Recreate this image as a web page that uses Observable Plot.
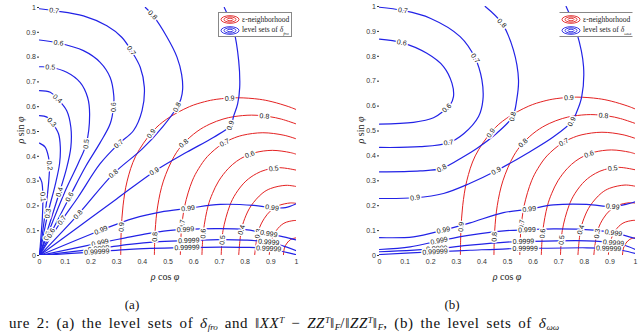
<!DOCTYPE html>
<html>
<head>
<meta charset="utf-8">
<script src="https://cdn.jsdelivr.net/npm/d3@7"></script>
<script src="https://cdn.jsdelivr.net/npm/@observablehq/plot@0.6"></script>
<style>
  html, body { margin: 0; padding: 0; background: #fff; }
  #wrap { position: relative; width: 640px; height: 334px; overflow: hidden; background: #fff; }
  .abs { position: absolute; white-space: nowrap; }
  .ttl { font-family: "Liberation Serif", "DejaVu Serif", serif; font-size: 10px; color: #222; transform: translate(-50%, -50%); }
  .legend { position: absolute; width: 72px; height: 23px; border: 1px solid #888; background: #fff; font-family: "Liberation Serif", serif; font-size: 7.5px; color: #222; }
  .legend .row { position: absolute; left: 1px; height: 11px; display: flex; align-items: center; }
  .legend svg { margin-right: 2px; }
  .cap { font-family: "Liberation Serif", "DejaVu Serif", serif; color: #111; }
  .line2 { line-height: 15px; font-size: 15px; letter-spacing: 0.6px; word-spacing: 2.5px; }
  .line2 sub, .line2 sup { font-size: 9px; line-height: 0; letter-spacing: 0; }
  .line2 sub { vertical-align: -2px; }
  .line2 sup { vertical-align: 5px; }
</style>
</head>
<body>
<div id="wrap">
  <div id="pa" class="abs" style="left:0;top:0"></div>
  <div id="pb" class="abs" style="left:320px;top:0"></div>

  <div class="abs ttl" style="left:165px;top:276px"><i>ρ</i> cos <i>φ</i></div>
  <div class="abs ttl" style="left:507px;top:276px"><i>ρ</i> cos <i>φ</i></div>
  <div class="abs ttl" style="left:20px;top:130px;transform:translate(-50%,-50%) rotate(-90deg)"><i>ρ</i> sin <i>φ</i></div>
  <div class="abs ttl" style="left:360px;top:130px;transform:translate(-50%,-50%) rotate(-90deg)"><i>ρ</i> sin <i>φ</i></div>

  <div class="legend" style="left:218px;top:12px">
    <div class="row" style="top:1px"><svg width="20" height="9"><g fill="none" stroke="#e02020" stroke-width="0.9"><ellipse cx="10" cy="4.5" rx="9" ry="3.8"/><ellipse cx="10" cy="4.5" rx="6" ry="2.6"/><ellipse cx="10" cy="4.5" rx="3" ry="1.3"/></g></svg><span>ε-neighborhood</span></div>
    <div class="row" style="top:12px"><svg width="20" height="9"><g fill="none" stroke="#2020e0" stroke-width="0.9"><ellipse cx="10" cy="4.5" rx="9" ry="3.8"/><ellipse cx="10" cy="4.5" rx="6" ry="2.6"/><ellipse cx="10" cy="4.5" rx="3" ry="1.3"/></g></svg><span>level sets of <i>δ</i><sub style="font-size:5px"><i>fro</i></sub></span></div>
  </div>
  <div class="legend" style="left:559px;top:12px;border-left-color:#fff;border-right-color:#fff">
    <div class="row" style="top:1px"><svg width="20" height="9"><g fill="none" stroke="#e02020" stroke-width="0.9"><ellipse cx="10" cy="4.5" rx="9" ry="3.8"/><ellipse cx="10" cy="4.5" rx="6" ry="2.6"/><ellipse cx="10" cy="4.5" rx="3" ry="1.3"/></g></svg><span>ε-neighborhood</span></div>
    <div class="row" style="top:12px"><svg width="20" height="9"><g fill="none" stroke="#2020e0" stroke-width="0.9"><ellipse cx="10" cy="4.5" rx="9" ry="3.8"/><ellipse cx="10" cy="4.5" rx="6" ry="2.6"/><ellipse cx="10" cy="4.5" rx="3" ry="1.3"/></g></svg><span>level sets of <i>δ</i><sub style="font-size:5px"><i>ωω</i></sub></span></div>
  </div>

  <div class="abs cap" style="left:132px;top:305px;font-size:13px;transform:translate(-50%,-50%)">(a)</div>
  <div class="abs cap" style="left:452px;top:305px;font-size:13px;transform:translate(-50%,-50%)">(b)</div>
  <div class="abs cap line2" style="left:9px;top:316px">ure 2: (a) the level sets of <i>δ</i><sub><i>fro</i></sub> and ‖<i>XX</i><sup><i>T</i></sup> − <i>ZZ</i><sup><i>T</i></sup>‖<sub><i>F</i></sub>/‖<i>ZZ</i><sup><i>T</i></sup>‖<sub><i>F</i></sub>, (b) the level sets of <i>δ</i><sub><i>ωω</i></sub></div>
</div>

<script>
// ---------- tick values ----------
const xTicks = [0, 0.1, 0.2, 0.3, 0.4, 0.5, 0.6, 0.7, 0.8, 0.9, 1];
const yTicks = [0, 0.1, 0.2, 0.3, 0.4, 0.5, 0.6, 0.7, 0.8, 0.9, 1];

// ---------- red contours (ε-neighborhood), same in both panels ----------
const redLevels = [0.9, 0.8, 0.7, 0.6, 0.5, 0.4, 0.3, 0.2, 0.1];
const redPaths = [
  [[0.316,0],[0.318,0.1],[0.325,0.2],[0.341,0.3],[0.374,0.4],[0.440,0.5],[0.495,0.55],[0.583,0.6],[0.642,0.62],[0.690,0.63],[0.771,0.636],[0.855,0.63],[0.905,0.62],[0.970,0.6],[1,0.588]],
  [[0.447,0],[0.450,0.1],[0.460,0.2],[0.482,0.3],[0.524,0.4],[0.559,0.45],[0.613,0.5],[0.663,0.53],[0.714,0.55],[0.757,0.56],[0.825,0.566],[0.894,0.56],[0.941,0.55],[1,0.530]],
  [[0.548,0],[0.552,0.1],[0.565,0.2],[0.594,0.3],[0.619,0.35],[0.654,0.4],[0.711,0.45],[0.748,0.47],[0.791,0.485],[0.869,0.495],[0.951,0.485],[1,0.470]],
  [[0.632,0],[0.638,0.1],[0.656,0.2],[0.673,0.25],[0.697,0.3],[0.734,0.35],[0.767,0.38],[0.800,0.4],[0.839,0.415],[0.906,0.424],[0.976,0.415],[1,0.408]],
  [[0.707,0],[0.714,0.1],[0.740,0.2],[0.764,0.25],[0.803,0.3],[0.844,0.33],[0.879,0.345],[0.935,0.354],[1,0.344]],
  [[0.775,0],[0.785,0.1],[0.799,0.15],[0.823,0.2],[0.866,0.25],[0.899,0.27],[0.959,0.283],[1,0.278]],
  [[0.837,0],[0.852,0.1],[0.875,0.15],[0.899,0.18],[0.927,0.2],[0.977,0.212],[1,0.210]],
  [[0.894,0],[0.900,0.05],[0.921,0.1],[0.951,0.13],[0.990,0.141],[1,0.141]],
  [[0.949,0],[0.953,0.03],[0.963,0.05],[0.978,0.065],[0.998,0.071],[1,0.071]]
];
const redLabels = [
  ["0.9",0.74,0.635],["0.8",0.875,0.562],["0.7",0.72,0.455],["0.6",0.818,0.408],["0.5",0.911,0.352],
  ["0.9",0.438,0.49],["0.8",0.56,0.453],
  ["0.9",0.318,0.115],["0.8",0.449,0.075],["0.7",0.556,0.125],["0.6",0.636,0.088],["0.5",0.712,0.062],["0.4",0.787,0.103],["0.3",0.851,0.088]
];

// ---------- blue contours, panel (a) ----------
const blueLevelsA = [0.1, 0.2, 0.3, 0.4, 0.5, 0.6, 0.7, 0.8, 0.9, 0.99, 0.999, 0.9999, 0.99999];
const bluePathsA = [
  [[0,0.316],[0.009,0.296],[0.013,0.236],[0.011,0.15],[0.006,0.08],[0,0]],
  [[0,0.453],[0.022,0.437],[0.035,0.397],[0.039,0.363],[0.036,0.30],[0.028,0.22],[0.013,0.1],[0,0]],
  [[0,0.564],[0.029,0.558],[0.048,0.537],[0.074,0.491],[0.081,0.437],[0.078,0.37],[0.06,0.28],[0.035,0.18],[0,0]],
  [[0,0.665],[0.042,0.658],[0.07,0.632],[0.106,0.584],[0.122,0.517],[0.122,0.437],[0.105,0.35],[0.078,0.256],[0,0]],
  [[0,0.761],[0.042,0.759],[0.106,0.739],[0.158,0.698],[0.187,0.638],[0.195,0.571],[0.182,0.45],[0.15,0.37],[0.1,0.26],[0,0]],
  [[0,0.869],[0.074,0.857],[0.171,0.826],[0.236,0.779],[0.275,0.718],[0.289,0.645],[0.288,0.598],[0.275,0.531],[0.236,0.455],[0.18,0.36],[0.117,0.236],[0,0]],
  [[0,0.995],[0.057,0.987],[0.171,0.966],[0.262,0.926],[0.32,0.88],[0.357,0.826],[0.392,0.759],[0.408,0.678],[0.399,0.584],[0.366,0.504],[0.308,0.45],[0.236,0.37],[0.15,0.235],[0.087,0.142],[0,0]],
  [[0.412,1.0],[0.44,0.97],[0.497,0.879],[0.535,0.80],[0.553,0.73],[0.557,0.67],[0.55,0.63],[0.535,0.598],[0.48,0.52],[0.40,0.43],[0.288,0.33],[0.15,0.165],[0,0]],
  [[0.719,1.0],[0.756,0.906],[0.775,0.786],[0.779,0.678],[0.771,0.611],[0.756,0.564],[0.743,0.524],[0.678,0.477],[0.574,0.417],[0.447,0.339],[0.30,0.228],[0.15,0.114],[0,0]],
  [[0,0],[0.239,0.102],[0.366,0.150],[0.47,0.175],[0.578,0.19],[0.704,0.206],[0.834,0.202],[0.905,0.193],[0.957,0.193],[1,0.209]],
  [[0,0],[0.236,0.051],[0.33,0.07],[0.42,0.088],[0.50,0.1],[0.568,0.105],[0.70,0.108],[0.80,0.104],[0.892,0.088],[0.95,0.075],[1,0.062]],
  [[0,0],[0.23,0.028],[0.35,0.045],[0.45,0.055],[0.581,0.06],[0.70,0.064],[0.80,0.062],[0.892,0.054],[0.95,0.038],[1,0.019]],
  [[0,0],[0.223,0.015],[0.35,0.025],[0.574,0.032],[0.70,0.034],[0.80,0.033],[0.892,0.028],[0.95,0.015],[1,0.003]]
];
const blueLabelsA = [
  ["0.7",0.057,0.987],["0.6",0.074,0.857],["0.5",0.042,0.76],["0.4",0.07,0.632],["0.3",0.048,0.537],["0.2",0.039,0.363],["0.1",0.013,0.236],
  ["0.7",0.357,0.826],["0.6",0.288,0.598],["0.5",0.182,0.45],["0.7",0.308,0.45],
  ["0.8",0.44,0.97],["0.8",0.535,0.598],["0.9",0.743,0.524],["0.8",0.288,0.33],["0.9",0.447,0.339],
  ["0.4",0.078,0.256],["0.6",0.117,0.236],["0.7",0.087,0.142],["0.8",0.15,0.165],["0.3",0.03,0.17],["0.5",0.03,0.08],["0.6",0.045,0.09],
  ["0.99",0.239,0.102],["0.999",0.236,0.051],["0.9999",0.23,0.028],["0.99999",0.223,0.015],
  ["0.99",0.578,0.19],["0.999",0.568,0.105],["0.9999",0.581,0.06],["0.99999",0.574,0.032],
  ["0.99",0.905,0.193],["0.999",0.892,0.088],["0.9999",0.892,0.054],["0.99999",0.892,0.028]
];

// ---------- blue contours, panel (b) ----------
const blueLevelsB = [0.6, 0.7, 0.8, 0.9, 0.99, 0.999, 0.9999, 0.99999];
const bluePathsB = [
  [[0,0.869],[0.087,0.855],[0.185,0.812],[0.25,0.759],[0.283,0.692],[0.289,0.638],[0.276,0.605],[0.25,0.58],[0.211,0.553],[0.133,0.535],[0,0.528]],
  [[0,0.997],[0.091,0.984],[0.198,0.953],[0.315,0.879],[0.374,0.792],[0.40,0.705],[0.404,0.625],[0.387,0.558],[0.33,0.49],[0.27,0.453],[0.159,0.437],[0,0.434]],
  [[0.413,1.0],[0.478,0.933],[0.523,0.826],[0.543,0.705],[0.536,0.625],[0.52,0.558],[0.458,0.491],[0.38,0.43],[0.328,0.397],[0.243,0.35],[0.159,0.34],[0,0.336]],
  [[0.729,1.0],[0.771,0.893],[0.797,0.759],[0.79,0.638],[0.771,0.578],[0.751,0.538],[0.68,0.477],[0.576,0.41],[0.456,0.34],[0.354,0.29],[0.25,0.249],[0.139,0.232],[0,0.229]],
  [[0,0.072],[0.133,0.075],[0.25,0.102],[0.354,0.131],[0.484,0.172],[0.585,0.186],[0.68,0.203],[0.81,0.205],[0.911,0.196],[0.966,0.206],[1,0.216]],
  [[0,0.024],[0.12,0.035],[0.233,0.059],[0.354,0.082],[0.497,0.1],[0.576,0.103],[0.68,0.107],[0.836,0.102],[0.914,0.091],[0.96,0.08],[1,0.068]],
  [[0,0.015],[0.224,0.028],[0.354,0.042],[0.497,0.054],[0.5625,0.056],[0.81,0.059],[0.914,0.051],[0.96,0.04],[1,0.024]],
  [[0,0.004],[0.217,0.015],[0.354,0.021],[0.497,0.027],[0.569,0.028],[0.81,0.031],[0.895,0.028],[0.95,0.02],[1,0.008]]
];
const blueLabelsB = [
  ["0.7",0.091,0.984],["0.7",0.374,0.792],["0.7",0.27,0.45],["0.6",0.087,0.855],["0.6",0.263,0.591],
  ["0.8",0.478,0.933],["0.8",0.52,0.558],["0.8",0.243,0.35],
  ["0.9",0.751,0.538],["0.9",0.456,0.34],["0.9",0.139,0.232],
  ["0.99",0.25,0.102],["0.99",0.585,0.186],["0.99",0.911,0.196],
  ["0.999",0.233,0.059],["0.999",0.576,0.102],["0.999",0.914,0.091],
  ["0.9999",0.224,0.028],["0.9999",0.5625,0.055],["0.9999",0.914,0.051],
  ["0.99999",0.217,0.015],["0.99999",0.569,0.028],["0.99999",0.895,0.028]
];

// ---------- helpers ----------
function toRows(paths, levels, tag) {
  const rows = [];
  paths.forEach((p, i) => p.forEach(([x, y]) => rows.push({x, y, id: tag + i, level: levels[i]})));
  return rows;
}
// place each label on the nearest point of a contour with the same level, aligned with it
function placeLabels(labels, paths, levels, sx, sy) {
  return labels.map(([text, lx, ly]) => {
    const px = lx * sx, py = -ly * sy;
    let best = null;
    paths.forEach((p, i) => {
      if (String(levels[i]) !== text) return;
      for (let k = 0; k < p.length - 1; k++) {
        const ax = p[k][0] * sx, ay = -p[k][1] * sy, bx = p[k + 1][0] * sx, by = -p[k + 1][1] * sy;
        const dx = bx - ax, dy = by - ay, L = dx * dx + dy * dy || 1;
        let t = ((px - ax) * dx + (py - ay) * dy) / L;
        t = Math.max(0, Math.min(1, t));
        const qx = ax + t * dx, qy = ay + t * dy;
        const d = Math.hypot(px - qx, py - qy);
        if (!best || d < best.d) best = {d, qx, qy, ang: Math.atan2(dy, dx) * 180 / Math.PI};
      }
    });
    if (!best) return {text, x: lx, y: ly, angle: 0};
    let a = best.ang;
    if (a > 90) a -= 180;
    if (a < -90) a += 180;
    return {text, x: best.qx / sx, y: -best.qy / sy, angle: a};
  });
}

function panel(bluePaths, blueLevels, blueLabels, ml, mr, mt, mb) {
  const W = 320, H = 285;
  const sx = W - ml - mr, sy = H - mt - mb;
  const redRows = toRows(redPaths, redLevels, "r");
  const blueRows = toRows(bluePaths, blueLevels, "b");
  const labR = placeLabels(redLabels, redPaths, redLevels, sx, sy);
  const labB = placeLabels(blueLabels, bluePaths, blueLevels, sx, sy);
  return Plot.plot({
    width: W, height: H,
    marginLeft: ml, marginRight: mr, marginTop: mt, marginBottom: mb,
    style: {fontFamily: "'Liberation Sans', Arial, sans-serif", fontSize: "7px", color: "#333", background: "white"},
    x: {domain: [0, 1], ticks: xTicks, tickFormat: d => String(d), tickSize: 0, tickPadding: 4, label: null},
    y: {domain: [0, 1], ticks: yTicks, tickFormat: d => String(d), tickSize: 2, tickPadding: 1.5, label: null},
    marks: [
      Plot.line(redRows, {x: "x", y: "y", z: "id", stroke: "#e42222", strokeWidth: 1, curve: "catmull-rom", clip: true}),
      Plot.line(blueRows, {x: "x", y: "y", z: "id", stroke: "#2222e6", strokeWidth: 1.2, curve: "catmull-rom", clip: true}),
      Plot.text(labR, {x: "x", y: "y", text: "text", rotate: "angle", fontSize: 7, fill: "#111", stroke: "white", strokeWidth: 3}),
      Plot.text(labB, {x: "x", y: "y", text: "text", rotate: "angle", fontSize: 7, fill: "#111", stroke: "white", strokeWidth: 3})
    ]
  });
}

document.getElementById("pa").appendChild(panel(bluePathsA, blueLevelsA, blueLabelsA, 39, 24, 7, 30));
document.getElementById("pb").appendChild(panel(bluePathsB, blueLevelsB, blueLabelsB, 59, 5, 6, 30));
</script>
</body>
</html>
